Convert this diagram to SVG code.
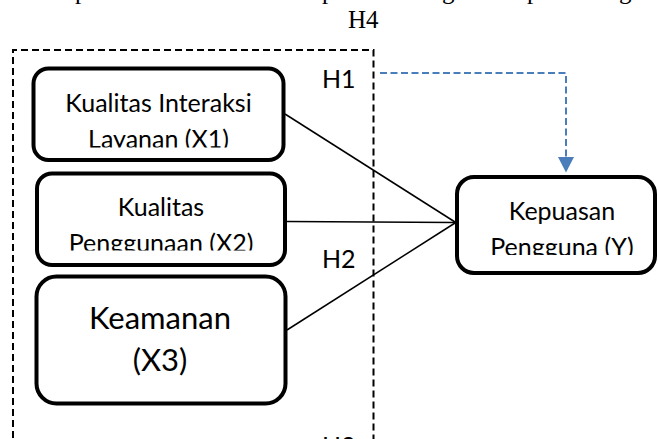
<svg xmlns="http://www.w3.org/2000/svg" width="658" height="439" viewBox="0 0 658 439">
  <style>
    .box { fill: #ffffff; stroke: #000000; stroke-width: 4; }
    .lbl { font-family: Lato, "Liberation Sans", sans-serif; font-size: 25px; fill: #000000; text-anchor: middle; }
    .big { font-size: 31px; }
    .hyp { font-family: Lato, "Liberation Sans", sans-serif; font-size: 25px; fill: #000000; }
    .serif { font-family: "Liberation Serif", serif; font-size: 25px; fill: #000000; }
    .link { stroke: #000000; stroke-width: 1.5; fill: none; }
    .group { stroke: #000000; stroke-width: 2; stroke-dasharray: 7 4; fill: none; }
    .h4link { stroke: #4A7EBB; stroke-width: 2; stroke-dasharray: 7 3.5; fill: none; }
  </style>
  <defs>
    <clipPath id="c1"><rect x="0" y="0" width="658" height="147.5"/></clipPath>
    <clipPath id="c2"><rect x="0" y="0" width="658" height="250.5"/></clipPath>
    <clipPath id="cy"><rect x="0" y="0" width="658" height="255"/></clipPath>
  </defs>

  <rect width="658" height="439" fill="#ffffff"/>

  <!-- clipped caption line above -->
  <g id="caption" class="serif">
    <text x="75" y="-1.5">p</text>
    <text x="322" y="-1.5">p</text>
    <text x="442" y="-1.5">g</text>
    <text x="527" y="-1.5">p</text>
    <text x="619" y="-1.5">g</text>
  </g>

  <g id="h4" class="serif"><text x="348" y="27.5">H4</text></g>

  <!-- dashed grouping frame -->
  <g id="frame">
    <path class="group" d="M 13 460 L 13 50 L 373.5 50 L 373.5 460"/>
  </g>

  <g id="connectors">
    <line class="link" x1="285" y1="114" x2="455" y2="222"/>
    <line class="link" x1="287" y1="221.5" x2="455" y2="222.5"/>
    <line class="link" x1="287" y1="330" x2="455" y2="223"/>
    <path class="h4link" d="M 380 73 L 566 73 L 566 158"/>
    <polygon points="558,157 574,157 566,172.5" fill="#4A7EBB"/>
  </g>

  <g id="x1">
    <rect class="box" x="33.5" y="68.5" width="250" height="91.5" rx="15"/>
    <text class="lbl" x="158.5" y="111.5">Kualitas Interaksi</text>
    <text class="lbl" x="158.5" y="148" clip-path="url(#c1)">Layanan (X1)</text>
  </g>

  <g id="x2">
    <rect class="box" x="37" y="173.5" width="248" height="91.5" rx="15"/>
    <text class="lbl" x="161" y="215.5">Kualitas</text>
    <text class="lbl" x="161" y="251.5" clip-path="url(#c2)">Penggunaan (X2)</text>
  </g>

  <g id="x3">
    <rect class="box" x="36.5" y="276.5" width="249" height="127" rx="20"/>
    <text class="lbl big" x="160" y="329">Keamanan</text>
    <text class="lbl big" x="160" y="371">(X3)</text>
  </g>

  <g id="y">
    <rect class="box" x="457" y="177" width="198" height="96" rx="17"/>
    <text class="lbl" x="562" y="220">Kepuasan</text>
    <text class="lbl" x="562" y="256" clip-path="url(#cy)">Pengguna (Y)</text>
  </g>

  <g id="hyp">
    <text class="hyp" x="322" y="88">H1</text>
    <text class="hyp" x="322" y="268">H2</text>
    <text class="hyp" x="322" y="455">H3</text>
  </g>
</svg>
